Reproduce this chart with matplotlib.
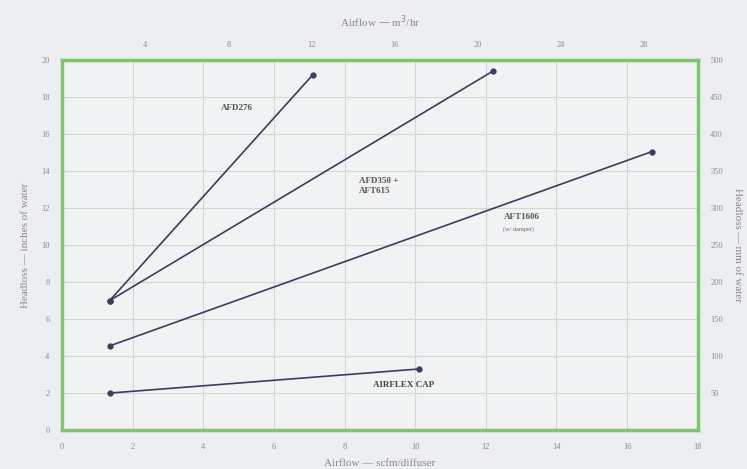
import matplotlib.pyplot as plt

# airflow in scfm/diffuser, headloss in inches of water
afd276_x = [1.35, 7.1]
afd276_y = [7.0, 19.2]
afd350_x = [1.35, 12.2]
afd350_y = [7.0, 19.4]
aft1606_x = [1.35, 16.7]
aft1606_y = [4.55, 15.05]
airflex_x = [1.35, 10.1]
airflex_y = [2.0, 3.3]

x_ticks = [0, 2, 4, 6, 8, 10, 12, 14, 16, 18]
y_ticks = [0, 2, 4, 6, 8, 10, 12, 14, 16, 18, 20]
top_ticks = [4, 8, 12, 16, 20, 24, 28]
right_ticks = [50, 100, 150, 200, 250, 300, 350, 400, 450, 500]

bg = '#eceef1'
txt = '#8a8a8a'
line_c = '#3b3d5c'
green = '#7fc46f'

plt.rcParams['font.family'] = ['Liberation Serif', 'DejaVu Serif']

fig = plt.figure(figsize=(7.47, 4.69), dpi=100, facecolor=bg)
ax = fig.add_axes([0.083, 0.083, 0.851, 0.789])
ax.set_facecolor('#f1f2f4')

for xs, ys in [(afd276_x, afd276_y), (afd350_x, afd350_y),
               (aft1606_x, aft1606_y), (airflex_x, airflex_y)]:
    ax.plot(xs, ys, color=line_c, lw=1.2, marker='o', ms=3.5, zorder=3)

ax.set_xlim(0, 18)
ax.set_ylim(0, 20)
ax.set_xticks(x_ticks)
ax.set_yticks(y_ticks)
ax.grid(True, color='#d0d8d2', lw=0.8)
for s in ax.spines.values():
    s.set_color(green)
    s.set_linewidth(2.5)
ax.tick_params(length=0, labelsize=6, colors=txt, pad=9)

ax.text(4.5, 17.3, 'AFD276', fontsize=6.5, color='#555', weight='bold')
ax.text(8.4, 12.8, 'AFD350 +\nAFT615', fontsize=6.5, color='#555', weight='bold',
        linespacing=1.4)
ax.text(12.5, 11.4, 'AFT1606', fontsize=6.5, color='#555', weight='bold')
ax.text(12.5, 10.8, '(w/ damper)', fontsize=4.5, color='#666')
ax.text(8.8, 2.35, 'AIRFLEX CAP', fontsize=6.5, color='#444', weight='bold')

top = ax.secondary_xaxis('top', functions=(lambda c: c * 1.699, lambda m: m / 1.699))
top.set_xticks(top_ticks)
top.tick_params(length=0, labelsize=6, colors=txt, pad=8)
top.spines['top'].set_visible(False)
top.set_xlabel('Airflow — m$^3$/hr', fontsize=8, color=txt, labelpad=10)

right = ax.twinx()
right.set_ylim(0, 500)
right.set_yticks(right_ticks)
right.tick_params(length=0, labelsize=6, colors=txt, pad=9)
for s in right.spines.values():
    s.set_visible(False)
right.set_ylabel('Headloss — mm of water', fontsize=8, color=txt,
                 rotation=270, labelpad=14)

ax.set_xlabel('Airflow — scfm/diffuser', fontsize=8, color=txt, labelpad=6)
ax.set_ylabel('Headloss — inches of water', fontsize=8, color=txt, labelpad=8)

fig.savefig('out.png', dpi=100, facecolor=bg)
